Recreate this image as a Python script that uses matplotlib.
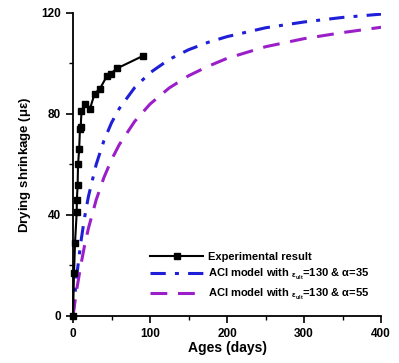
import matplotlib
matplotlib.use('Agg')
import matplotlib.pyplot as plt
from matplotlib.ticker import MultipleLocator

plt.rcParams['font.family'] = ['Liberation Sans', 'DejaVu Sans']
plt.rcParams['font.weight'] = 'bold'
plt.rcParams['mathtext.default'] = 'regular'

# Experimental data (days, microstrain)
exp_age = [0, 1.3, 2.6, 4.8, 5, 6, 6.5, 8, 9, 10, 11, 15, 22, 28, 35, 44, 49, 57, 91]
exp_shrink = [0, 17, 29, 41, 46, 52, 60, 66, 74, 75, 81, 84, 82, 88, 90, 95, 96, 98, 103]

# ACI model curves
model_age = [0, 2, 5, 10, 15, 20, 30, 40, 50, 60, 80, 100, 125, 150, 175, 200, 250, 300, 350, 400]
aci_35 = [0, 7.0, 16.3, 28.9, 39.0, 47.3, 59.9, 69.3, 76.5, 82.1, 90.4, 96.3, 101.6, 105.4,
          108.3, 110.6, 114.1, 116.4, 118.2, 119.5]
aci_55 = [0, 4.5, 10.8, 19.9, 27.9, 34.7, 45.9, 54.7, 61.9, 67.8, 77.0, 83.9, 90.3, 95.1,
          98.8, 102.0, 106.6, 109.8, 112.2, 114.3]

fig = plt.figure(figsize=(3.99, 3.63), dpi=100)
ax = fig.add_axes([0.183, 0.1295, 0.772, 0.835])

ax.plot(exp_age, exp_shrink, color='black', linewidth=1.5, marker='s', markersize=5,
        clip_on=False, zorder=5, label='Experimental result')
ax.plot(model_age, aci_35, color='#1f1fd8', linewidth=2.2, dashes=[5, 3, 1.3, 3],
        label=r'ACI model with $_{\varepsilon_{ult}}$=130 & $\alpha$=35')
ax.plot(model_age, aci_55, color='#9a1fc8', linewidth=2.2, dashes=[5.5, 3.5],
        label=r'ACI model with $_{\varepsilon_{ult}}$=130 & $\alpha$=55')

ax.set_xlim(0, 400)
ax.set_ylim(0, 120)
ax.xaxis.set_major_locator(MultipleLocator(100))
ax.xaxis.set_minor_locator(MultipleLocator(50))
ax.yaxis.set_major_locator(MultipleLocator(40))
ax.yaxis.set_minor_locator(MultipleLocator(20))
ax.tick_params(which='major', direction='out', length=5, width=1.2, labelsize=8.5)
ax.tick_params(which='minor', direction='out', length=3, width=1.0)
for lab in ax.get_xticklabels() + ax.get_yticklabels():
    lab.set_fontweight('bold')

ax.spines['top'].set_visible(False)
ax.spines['right'].set_visible(False)
ax.spines['left'].set_linewidth(1.3)
ax.spines['bottom'].set_linewidth(1.3)

ax.set_xlabel('Ages (days)', fontsize=10, fontweight='bold', labelpad=1)
ax.set_ylabel(r'Drying shrinkage ($\mu\varepsilon$)', fontsize=9.5, fontweight='bold', labelpad=6)

ax.legend(loc='upper left', bbox_to_anchor=(0.25, 0.212), frameon=False, borderpad=0,
          borderaxespad=0, handlelength=4.8, handletextpad=0.45, labelspacing=0.45,
          prop={'weight': 'bold', 'size': 8})

fig.savefig('out.png', dpi=100)
